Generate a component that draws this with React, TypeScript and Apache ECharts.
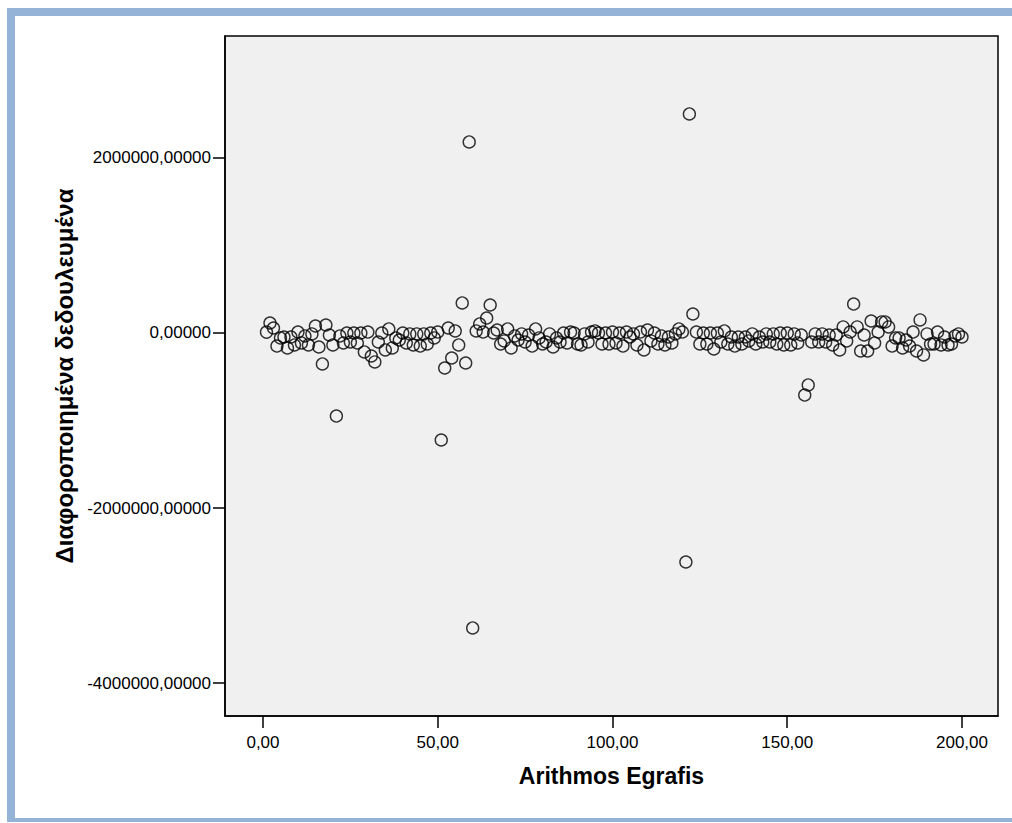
import React, { useEffect, useRef } from "react";
import * as echarts from "echarts";

// Case numbers 1..200
const caseNumbers: number[] = Array.from({ length: 200 }, (_, i) => i + 1);

// Differentiated accruals
const residuals: number[] = [
  10000, 114000, 57000, -149000, -57000, -46000, -171000, -46000, -137000, 11000,
  -114000, -34000, -137000, -11000, 80000, -160000, -354000, 91000, -23000, -137000,
  -949000, -34000, -114000, 0, -103000, 0, -114000, 0, -217000, 11000,
  -263000, -331000, -103000, 0, -194000, 46000, -171000, -57000, -80000, 0,
  -114000, -11000, -137000, -11000, -149000, -11000, -126000, 0, -57000, 11000,
  -1223000, -400000, 57000, -286000, 23000, -137000, 343000, -343000, 2183000, -3371000,
  23000, 103000, 11000, 171000, 320000, 0, 34000, -126000, -91000, 46000,
  -171000, -34000, -80000, -11000, -103000, -23000, -149000, 46000, -57000, -126000,
  -103000, -11000, -160000, -57000, -103000, 0, -114000, 11000, 0, -126000,
  -137000, -11000, -103000, 11000, 23000, 0, -126000, 0, -126000, 11000,
  -114000, 0, -149000, 11000, -46000, -11000, -137000, 11000, -194000, 34000,
  -91000, 0, -126000, -34000, -137000, -46000, -114000, -11000, 46000, 11000,
  -2617000, 2503000, 217000, 11000, -126000, 0, -126000, 0, -183000, 0,
  -103000, 23000, -126000, -46000, -149000, -46000, -126000, -46000, -91000, -11000,
  -126000, -46000, -103000, -11000, -103000, -11000, -126000, 0, -137000, 0,
  -137000, -11000, -114000, -23000, -709000, -594000, -103000, -11000, -103000, -11000,
  -103000, -23000, -137000, -23000, -194000, 69000, -91000, 11000, 331000, 69000,
  -206000, -23000, -206000, 137000, -114000, 11000, 126000, 126000, 69000, -149000,
  -57000, -57000, -171000, -80000, -149000, 11000, -206000, 149000, -251000, -11000,
  -126000, -126000, 11000, -137000, -46000, -137000, -126000, -34000, -11000, -46000,
];

const xTicks: number[] = [0, 50, 100, 150, 200];
const yTicks: number[] = [-4000000, -2000000, 0, 2000000];

const xTitle = "Arithmos Egrafis";
const yTitle = "Διαφοροποιημένα δεδουλευμένα";

const fmt = (v: number, d: number) => v.toFixed(d).replace(".", ",");

export default function App() {
  const ref = useRef<HTMLDivElement>(null);
  useEffect(() => {
    if (!ref.current) return;
    const chart = echarts.init(ref.current, null, { renderer: "svg" });
    const font = "Arial, 'Liberation Sans', sans-serif";
    chart.setOption({
      animation: false,
      backgroundColor: "#ffffff",
      textStyle: { fontFamily: font },
      grid: {
        left: 225,
        top: 36,
        width: 773,
        height: 680,
        show: true,
        backgroundColor: "#f0f0f0",
        borderColor: "#000000",
        borderWidth: 1.5,
      },
      xAxis: {
        type: "value",
        min: -10.87,
        max: 210.3,
        name: xTitle,
        nameLocation: "middle",
        nameGap: 48,
        nameTextStyle: { fontSize: 23, fontWeight: "bold", color: "#000", fontFamily: font },
        splitLine: { show: false },
        axisLine: { show: true, onZero: false, lineStyle: { color: "#000", width: 1.5 } },
        axisTick: { show: true, customValues: xTicks, length: 12, lineStyle: { color: "#000", width: 1.5 } },
        axisLabel: {
          customValues: xTicks,
          formatter: (v: number) => fmt(v, 2),
          fontSize: 17,
          color: "#000",
          margin: 18,
          fontFamily: font,
        },
      },
      yAxis: {
        type: "value",
        min: -4377000,
        max: 3394000,
        name: yTitle,
        nameLocation: "middle",
        nameGap: 145,
        nameTextStyle: { fontSize: 24, fontWeight: "bold", color: "#000", fontFamily: font },
        splitLine: { show: false },
        axisLine: { show: true, onZero: false, lineStyle: { color: "#000", width: 1.5 } },
        axisTick: { show: true, customValues: yTicks, length: 12, lineStyle: { color: "#000", width: 1.5 } },
        axisLabel: {
          customValues: yTicks,
          formatter: (v: number) => fmt(v, 5),
          fontSize: 17,
          color: "#000",
          margin: 14,
          fontFamily: font,
        },
      },
      series: [
        {
          type: "scatter",
          data: caseNumbers.map((c, i) => [c, residuals[i]]),
          symbol: "circle",
          symbolSize: 12,
          itemStyle: { color: "rgba(0,0,0,0)", borderColor: "#000", borderWidth: 1.4 },
        },
      ],
      graphic: [
        { type: "rect", shape: { x: 7, y: 8, width: 1005, height: 8 }, style: { fill: "#95b3d7" } },
        { type: "rect", shape: { x: 7, y: 8, width: 8, height: 814 }, style: { fill: "#95b3d7" } },
        { type: "rect", shape: { x: 7, y: 818, width: 1005, height: 4 }, style: { fill: "#95b3d7" } },
      ],
    });
    return () => chart.dispose();
  }, []);
  return (
    <div
      ref={ref}
      style={{ position: "absolute", left: 0, top: 0, width: 1012, height: 823 }}
    />
  );
}
